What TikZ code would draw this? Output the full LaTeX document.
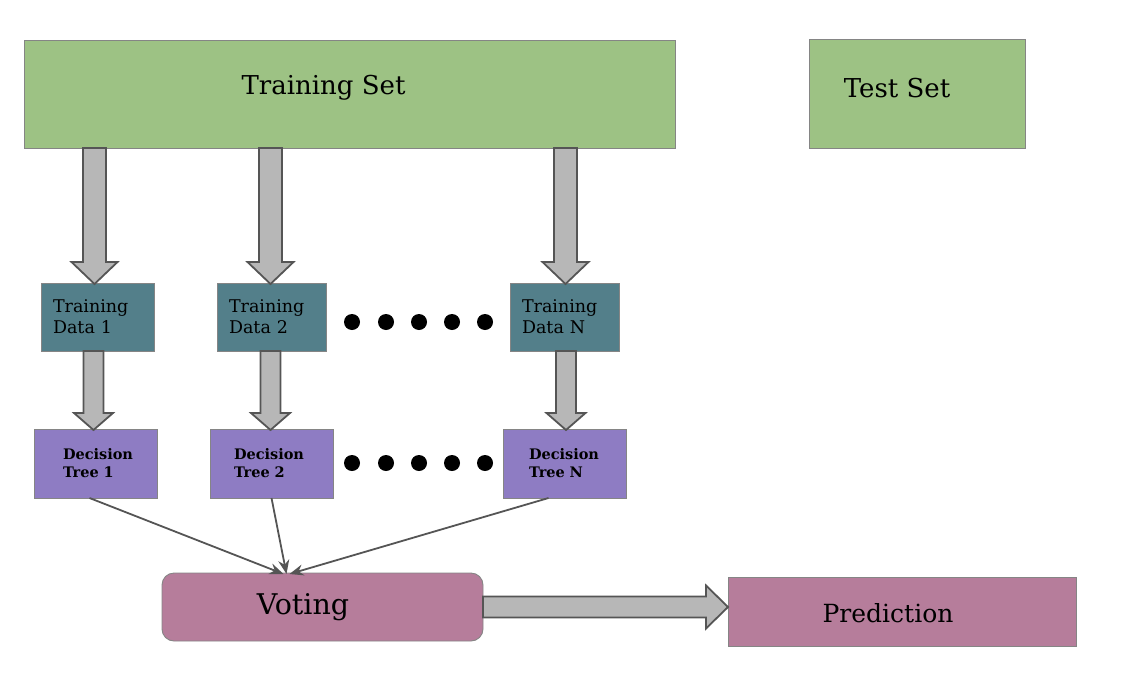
\documentclass[tikz,border=0pt]{standalone}
\usepackage{fontspec}
\setmainfont{DejaVu Serif}
\usetikzlibrary{arrows.meta,calc}
\definecolor{setgreen}{HTML}{9DC284}
\definecolor{dteal}{HTML}{537F8A}
\definecolor{dpurple}{HTML}{8E7CC3}
\definecolor{dpink}{HTML}{B67D9B}
\definecolor{arrfill}{HTML}{B7B7B7}
\definecolor{arrline}{HTML}{555555}
\definecolor{boxline}{HTML}{858585}
\tikzset{
  box/.style={draw=boxline, line width=0.9pt, inner sep=0pt, outer sep=0pt},
  setbox/.style={box, fill=setgreen},
  databox/.style={box, fill=dteal, minimum height=68pt, inner xsep=12pt, align=left,
    font=\fontsize{17.5}{21}\selectfont},
  treebox/.style={box, fill=dpurple, minimum height=69pt, align=left,
    font=\fontsize{14.5}{18}\selectfont\bfseries},
  pinkbox/.style={box, fill=dpink},
  bigtext/.style={inner sep=0pt, font=\fontsize{26}{30}\selectfont},
  blockarrow/.style={draw=arrline, fill=arrfill, line width=1.8pt, line join=miter},
  conn/.style={draw=arrline, line width=1.8pt, -{Stealth[length=14pt,width=11pt]}},
  dot/.style={circle, fill=black, minimum size=16pt, inner sep=0pt},
}
% vertical block arrow: #1 top point, #2 tip point, #3 shaft half width, #4 head half width, #5 head length
\newcommand\blkdown[5]{%
  \draw[blockarrow] let \p1=(#1), \p2=(#2) in
    (\x2-#3,\y1) -- (\x2-#3,\y2+#5) -- (\x2-#4,\y2+#5) -- (\x2,\y2)
    -- (\x2+#4,\y2+#5) -- (\x2+#3,\y2+#5) -- (\x2+#3,\y1) -- cycle;}
\newcommand\blkright[5]{%
  \draw[blockarrow] let \p1=(#1), \p2=(#2) in
    (\x1,\y1-#3) -- (\x2-#5,\y1-#3) -- (\x2-#5,\y1-#4) -- (\x2,\y1)
    -- (\x2-#5,\y1+#4) -- (\x2-#5,\y1+#3) -- (\x1,\y1+#3) -- cycle;}
\begin{document}
\begin{tikzpicture}[x=1pt,y=-1pt]
\useasboundingbox (0,0) rectangle (1134,696);
% sets
\node[setbox, minimum width=651pt, minimum height=108pt] (ts) at (349.5,94) {};
\node[bigtext] (tstext) at (323.5,88) {Training Set};
\node[setbox, minimum width=216pt, minimum height=109pt] (test) at (917.5,93.5) {};
\node[bigtext] (testtext) at (897,88) {Test Set};
% training data
\node[databox, text width=89pt] (td1) at (97.5,317) {Training\\Data 1};
\node[databox, text width=85pt] (td2) at (271.5,317) {Training\\Data 2};
\node[databox, text width=85pt] (tdn) at (564.5,317) {Training\\Data N};
% decision trees
\node[treebox, inner xsep=29pt, text width=65pt] (dt1) at (95.5,463.5) {Decision\\Tree 1};
\node[treebox, inner xsep=24pt, text width=75pt] (dt2) at (271.5,463.5) {Decision\\Tree 2};
\node[treebox, inner xsep=26pt, text width=71pt] (dtn) at (564.5,463.5) {Decision\\Tree N};
% dots
\foreach \i/\x in {1/352,2/386,3/419,4/452,5/485}{
  \node[dot] (da\i) at (\x,322) {};
  \node[dot] (db\i) at (\x,463) {};
}
% voting and prediction
\node[pinkbox, rounded corners=12pt, minimum width=321pt, minimum height=68pt] (vote) at (322.5,607) {};
\node[bigtext, font=\fontsize{28.5}{32}\selectfont] (votetext) at (303,607) {Voting};
\node[pinkbox, minimum width=348pt, minimum height=69pt] (pred) at (902,611.5) {};
\node[bigtext, font=\fontsize{25}{30}\selectfont] (predtext) at (888,613) {Prediction};
% block arrows
\blkdown{ts.south}{[xshift=-3pt,yshift=-1pt]td1.north}{11.5pt}{23pt}{22pt}
\blkdown{ts.south}{[xshift=-1pt,yshift=-1pt]td2.north}{11.5pt}{23pt}{22pt}
\blkdown{ts.south}{[xshift=1pt,yshift=-1pt]tdn.north}{11.5pt}{23pt}{22pt}
\blkdown{td1.south}{[xshift=-2pt,yshift=-1pt]dt1.north}{10pt}{19.5pt}{17pt}
\blkdown{td2.south}{[xshift=-1pt,yshift=-1pt]dt2.north}{10pt}{19.5pt}{17pt}
\blkdown{tdn.south}{[xshift=1.5pt,yshift=-1pt]dtn.north}{10pt}{19.5pt}{17pt}
\blkright{vote.east}{pred.west}{10.5pt}{21.5pt}{22pt}
% connectors
\coordinate (vin) at ([xshift=-36pt]vote.north);
\draw[conn] ([xshift=-6pt]dt1.south) -- ([xshift=-3pt,yshift=-1pt]vin);
\draw[conn] (dt2.south) -- ([yshift=-1pt]vin);
\draw[conn] ([xshift=-16pt]dtn.south) -- ([xshift=3pt,yshift=-1pt]vin);
\end{tikzpicture}
\end{document}
